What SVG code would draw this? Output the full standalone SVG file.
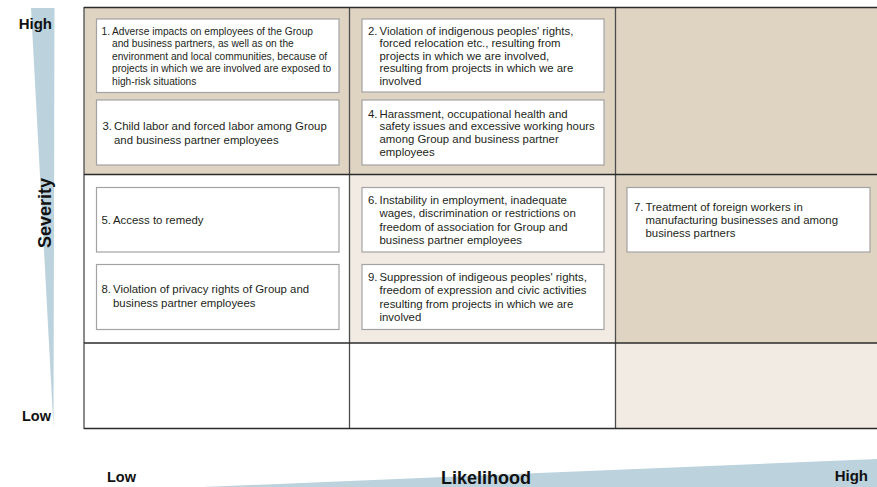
<svg xmlns="http://www.w3.org/2000/svg" width="877" height="487" viewBox="0 0 877 487">
<style>
.tan{fill:#dfd4c2}
.lt{fill:#f2ebe3}
.wh{fill:#ffffff}
.hl{stroke:#2b2b2b;stroke-width:1.3;fill:none}
.vl{stroke:#4d4d4d;stroke-width:1.3;fill:none}
.box{fill:#ffffff;stroke:#a3a3a3;stroke-width:1.2}
.t{font-family:"Liberation Sans",Arial,sans-serif;font-size:11.4px;fill:#231f20}
.ts{font-family:"Liberation Sans",Arial,sans-serif;font-size:10.2px;fill:#231f20}
.ax{font-family:"Liberation Sans",Arial,sans-serif;font-weight:bold;fill:#111}
.wedge{fill:#bcd3de}
</style>
<g id="axes">
<polygon class="wedge" points="31,8 54.5,8 53.5,428"/>
<polygon class="wedge" points="203,487 877,459 877,487"/>
<text class="ax" x="52" y="29" font-size="15" text-anchor="end">High</text>
<text class="ax" x="51" y="420.5" font-size="14.5" text-anchor="end">Low</text>
<text class="ax" transform="translate(50.5,213) rotate(-90)" font-size="18" text-anchor="middle">Severity</text>
<text class="ax" x="107" y="481.5" font-size="14.5">Low</text>
<text class="ax" x="486" y="484" font-size="18" text-anchor="middle">Likelihood</text>
<text class="ax" x="868" y="481" font-size="15" text-anchor="end">High</text>
</g>
<g id="grid">
<rect class="tan" x="84" y="7.5" width="265.5" height="167"/>
<rect class="tan" x="349.5" y="7.5" width="266" height="167"/>
<rect class="tan" x="615.5" y="7.5" width="262" height="167"/>
<rect class="wh" x="84" y="174.5" width="265.5" height="168.5"/>
<rect class="lt" x="349.5" y="174.5" width="266" height="168.5"/>
<rect class="tan" x="615.5" y="174.5" width="262" height="168.5"/>
<rect class="wh" x="84" y="343" width="265.5" height="85.5"/>
<rect class="wh" x="349.5" y="343" width="266" height="85.5"/>
<rect class="lt" x="615.5" y="343" width="262" height="85.5"/>
<line class="vl" x1="84" y1="7" x2="84" y2="429"/>
<line class="vl" x1="349.5" y1="7.5" x2="349.5" y2="428.5"/>
<line class="vl" x1="615.5" y1="7.5" x2="615.5" y2="428.5"/>
<line class="hl" x1="84" y1="7.5" x2="877" y2="7.5"/>
<line class="hl" x1="84" y1="174.5" x2="877" y2="174.5"/>
<line class="hl" x1="84" y1="343" x2="877" y2="343"/>
<line class="hl" x1="84" y1="428.5" x2="877" y2="428.5"/>
</g>
<g id="connectors"/>
<g id="node1">
<rect class="box" x="96.5" y="19" width="242.5" height="73.5"/>
<text class="ts"><tspan x="101.5" y="34.5">1.</tspan><tspan x="112" y="34.5">Adverse impacts on employees of the Group</tspan><tspan x="112" y="47">and business partners, as well as on the</tspan><tspan x="112" y="59.5">environment and local communities, because of</tspan><tspan x="112" y="72">projects in which we are involved are exposed to</tspan><tspan x="112" y="84.5">high-risk situations</tspan></text>
</g>
<g id="node3">
<rect class="box" x="96.5" y="100" width="242.5" height="65"/>
<text class="t"><tspan x="102.5" y="129.5">3.</tspan><tspan x="114" y="129.5">Child labor and forced labor among Group</tspan><tspan x="114" y="143.5">and business partner employees</tspan></text>
</g>
<g id="node2">
<rect class="box" x="362" y="19" width="242" height="73"/>
<text class="t"><tspan x="368" y="34.5">2.</tspan><tspan x="379.5" y="34.5">Violation of indigenous peoples' rights,</tspan><tspan x="379.5" y="47">forced relocation etc., resulting from</tspan><tspan x="379.5" y="59.5">projects in which we are involved,</tspan><tspan x="379.5" y="72">resulting from projects in which we are</tspan><tspan x="379.5" y="84.5">involved</tspan></text>
</g>
<g id="node4">
<rect class="box" x="362" y="100" width="242" height="65"/>
<text class="t"><tspan x="368" y="117.5">4.</tspan><tspan x="379.5" y="117.5">Harassment, occupational health and</tspan><tspan x="379.5" y="130.3">safety issues and excessive working hours</tspan><tspan x="379.5" y="143.1">among Group and business partner</tspan><tspan x="379.5" y="155.9">employees</tspan></text>
</g>
<g id="node5">
<rect class="box" x="96.5" y="187.5" width="242.5" height="64.5"/>
<text class="t"><tspan x="101.5" y="224">5.</tspan><tspan x="113" y="224">Access to remedy</tspan></text>
</g>
<g id="node8">
<rect class="box" x="96.5" y="264.5" width="242.5" height="65"/>
<text class="t"><tspan x="101.5" y="293">8.</tspan><tspan x="113" y="293">Violation of privacy rights of Group and</tspan><tspan x="113" y="306.5">business partner employees</tspan></text>
</g>
<g id="node6">
<rect class="box" x="362" y="187.5" width="242" height="64.5"/>
<text class="t"><tspan x="368" y="203.5">6.</tspan><tspan x="379.5" y="203.5">Instability in employment, inadequate</tspan><tspan x="379.5" y="217">wages, discrimination or restrictions on</tspan><tspan x="379.5" y="230.5">freedom of association for Group and</tspan><tspan x="379.5" y="244">business partner employees</tspan></text>
</g>
<g id="node9">
<rect class="box" x="362" y="264.5" width="242" height="65"/>
<text class="t"><tspan x="368" y="281">9.</tspan><tspan x="379.5" y="281">Suppression of indigeous peoples' rights,</tspan><tspan x="379.5" y="294.3">freedom of expression and civic activities</tspan><tspan x="379.5" y="307.6">resulting from projects in which we are</tspan><tspan x="379.5" y="321">involved</tspan></text>
</g>
<g id="node7">
<rect class="box" x="627" y="187.5" width="243" height="64.5"/>
<text class="t"><tspan x="634" y="210.5">7.</tspan><tspan x="645.5" y="210.5">Treatment of foreign workers in</tspan><tspan x="645.5" y="223.5">manufacturing businesses and among</tspan><tspan x="645.5" y="236.5">business partners</tspan></text>
</g>
</svg>
